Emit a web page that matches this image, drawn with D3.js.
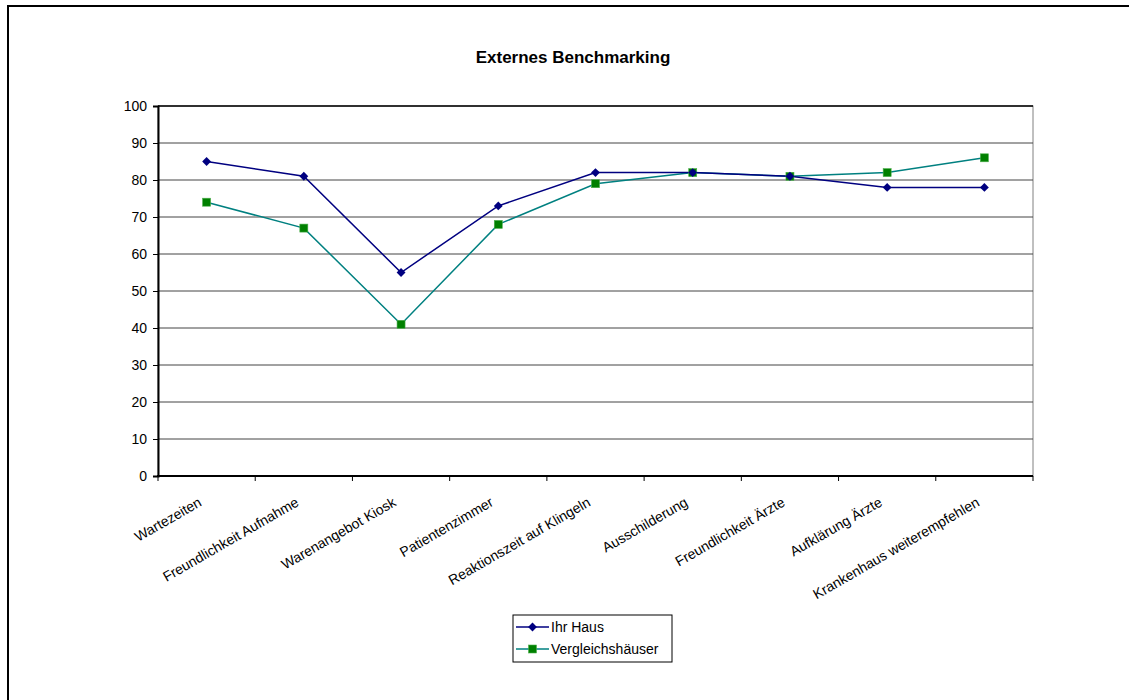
<!DOCTYPE html>
<meta charset="utf-8">
<style>
    body { margin: 0; background: #fff; }
    svg { font-family: Arial, "Liberation Sans", sans-serif; }
    .grid line { stroke: #444; stroke-width: 1; }
    .axis text { font-size: 14px; fill: #000; }
    .axis path, .axis line { stroke: #000; }
</style>
<svg width="1129" height="700"></svg>
<script src="https://d3js.org/d3.v7.min.js"></script>
<script>

    var categories = ["Wartezeiten", "Freundlichkeit Aufnahme", "Warenangebot Kiosk", "Patientenzimmer",
        "Reaktionszeit auf Klingeln", "Ausschilderung", "Freundlichkeit Ärzte", "Aufklärung Ärzte",
        "Krankenhaus weiterempfehlen"];
    var ihrHaus = [85, 81, 55, 73, 82, 82, 81, 78, 78];
    var vergleich = [74, 67, 41, 68, 79, 82, 81, 82, 86];
    var yTicks = [0, 10, 20, 30, 40, 50, 60, 70, 80, 90, 100];

    var svg = d3.select("svg");

    var plotLeft = 158, plotRight = 1033, plotTop = 106, plotBottom = 476;

    // outer frame runs off the right and bottom edges
    svg.append("rect")
        .attr("x", 8).attr("y", 6)
        .attr("width", 1200).attr("height", 800)
        .attr("fill", "none")
        .attr("stroke", "#000")
        .attr("stroke-width", 2);

    svg.append("text")
        .attr("x", 573).attr("y", 63)
        .attr("text-anchor", "middle")
        .style("font-size", "17px")
        .style("font-weight", "bold")
        .text("Externes Benchmarking");

    var x = d3.scaleBand().domain(categories).range([plotLeft, plotRight]);
    var y = d3.scaleLinear().domain([0, 100]).range([plotBottom, plotTop]);

    // plot area border
    svg.append("rect")
        .attr("x", plotLeft).attr("y", plotTop)
        .attr("width", plotRight - plotLeft).attr("height", plotBottom - plotTop)
        .attr("fill", "none")
        .attr("stroke", "#808080");

    svg.append("g")
        .attr("class", "grid")
        .selectAll("line")
        .data(yTicks.slice(1))
        .join("line")
        .attr("x1", plotLeft).attr("x2", plotRight)
        .attr("y1", function(d) { return y(d); })
        .attr("y2", function(d) { return y(d); })
        .style("stroke", function(d) { return d === 100 ? "#000" : null; })
        .style("stroke-width", function(d) { return d === 100 ? 1.5 : null; });

    var yAxis = svg.append("g")
        .attr("class", "axis")
        .attr("transform", "translate(" + plotLeft + ",0)")
        .call(d3.axisLeft(y).tickValues(yTicks).tickSize(5).tickPadding(6));
    yAxis.select(".domain").attr("stroke-width", 2);

    // x axis with ticks at category boundaries
    var xAxis = svg.append("g")
        .attr("class", "axis")
        .attr("transform", "translate(0," + plotBottom + ")");
    xAxis.append("line")
        .attr("x1", plotLeft - 1).attr("x2", plotRight)
        .attr("stroke-width", 2);
    xAxis.selectAll(".tk")
        .data(categories)
        .join("line")
        .attr("class", "tk")
        .attr("x1", function(d) { return x(d); })
        .attr("x2", function(d) { return x(d); })
        .attr("y1", 0).attr("y2", 5);
    xAxis.append("line")
        .attr("x1", plotRight).attr("x2", plotRight)
        .attr("y1", 0).attr("y2", 5);
    xAxis.selectAll("text")
        .data(categories)
        .join("text")
        .attr("text-anchor", "end")
        .attr("transform", function(d) {
            return "translate(" + (x(d) + x.bandwidth() / 2 - 4) + ",29) rotate(-30)";
        })
        .text(function(d) { return d; });

    var cx = function(d, i) { return x(categories[i]) + x.bandwidth() / 2; };

    var line = d3.line()
        .x(function(d, i) { return cx(d, i); })
        .y(function(d) { return y(d); });

    svg.append("path")
        .datum(vergleich)
        .attr("fill", "none")
        .attr("stroke", "#008080")
        .attr("stroke-width", 1.5)
        .attr("d", line);

    svg.append("path")
        .datum(ihrHaus)
        .attr("fill", "none")
        .attr("stroke", "#000080")
        .attr("stroke-width", 1.5)
        .attr("d", line);

    var diamond = d3.symbol().type(d3.symbolDiamond2).size(50);

    svg.selectAll(".sq")
        .data(vergleich)
        .join("rect")
        .attr("class", "sq")
        .attr("x", function(d, i) { return cx(d, i) - 4; })
        .attr("y", function(d) { return y(d) - 4; })
        .attr("width", 8).attr("height", 8)
        .attr("fill", "#008000")
        .attr("stroke", "#4caf4c")
        .attr("stroke-width", 0.6);

    svg.selectAll(".dm")
        .data(ihrHaus)
        .join("path")
        .attr("class", "dm")
        .attr("transform", function(d, i) { return "translate(" + cx(d, i) + "," + y(d) + ")"; })
        .attr("d", diamond)
        .attr("fill", "#000080");

    // legend
    var legend = svg.append("g").attr("transform", "translate(513,615)");
    legend.append("rect")
        .attr("width", 159).attr("height", 47)
        .attr("fill", "#fff")
        .attr("stroke", "#000");

    var series = [
        { name: "Ihr Haus", line: "#000080", marker: "diamond" },
        { name: "Vergleichshäuser", line: "#008080", marker: "square" }
    ];

    var items = legend.selectAll(".item")
        .data(series)
        .join("g")
        .attr("class", "item")
        .attr("transform", function(d, i) { return "translate(0," + (12 + i * 22) + ")"; });
    items.append("line")
        .attr("x1", 3).attr("x2", 36)
        .attr("stroke", function(d) { return d.line; })
        .attr("stroke-width", 1.5);
    items.each(function(d) {
        var g = d3.select(this);
        if (d.marker === "diamond") {
            g.append("path")
                .attr("transform", "translate(19.5,0)")
                .attr("d", diamond)
                .attr("fill", "#000080");
        } else {
            g.append("rect")
                .attr("x", 15.5).attr("y", -4)
                .attr("width", 8).attr("height", 8)
                .attr("fill", "#008000")
                .attr("stroke", "#4caf4c")
                .attr("stroke-width", 0.6);
        }
    });
    items.append("text")
        .attr("x", 38).attr("y", 5)
        .style("font-size", "14px")
        .text(function(d) { return d.name; });

</script>
